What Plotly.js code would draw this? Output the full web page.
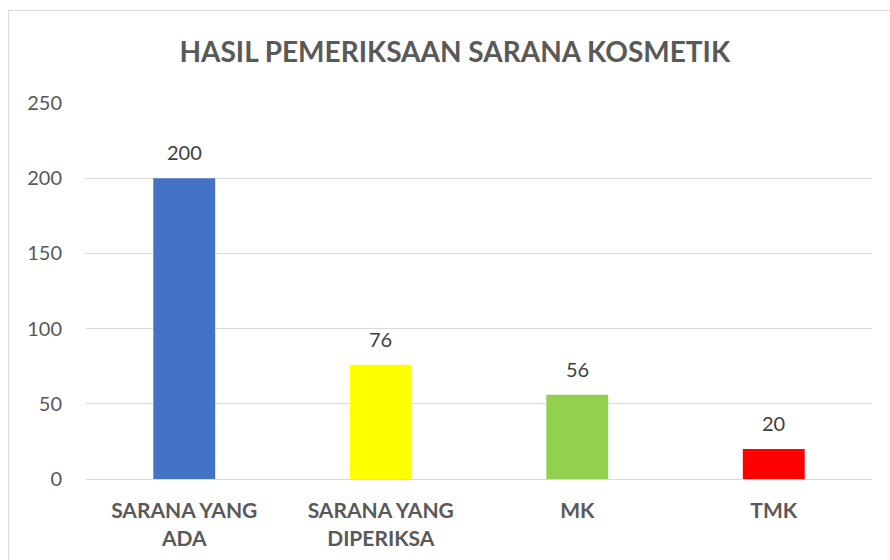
<!DOCTYPE html>
<html>
<head>
<meta charset="utf-8">
<script src="https://cdn.plot.ly/plotly-3.0.1.min.js"></script>
<style>
html,body{margin:0;padding:0;background:#fff;overflow:hidden;}
#chart{position:absolute;left:0;top:0;width:890px;height:560px;}
#frame{position:absolute;left:8px;top:10px;width:900px;height:600px;border:1px solid #d9d9d9;pointer-events:none;}
</style>
</head>
<body>
<div id="chart"></div>
<div id="frame"></div>
<script>
const categories = ["SARANA YANG<br>ADA", "SARANA YANG<br>DIPERIKSA", "MK", "TMK"];
const values = [200, 76, 56, 20];
const colors = ["#4472C4", "#FFFF00", "#92D050", "#FF0000"];
const yTicks = [0, 50, 100, 150, 200, 250];

const font = "Lato, 'Open Sans', sans-serif";

const trace = {
  type: "bar",
  x: categories,
  y: values,
  marker: {color: colors, line: {width: 0}},
  hoverinfo: "none"
};

const annotations = values.map((v, i) => ({
  x: categories[i], y: v, xref: "x", yref: "y",
  text: String(v), showarrow: false,
  yanchor: "bottom", yshift: 12,
  font: {family: font, size: 20, color: "#404040"}
}));

const layout = {
  width: 890, height: 560,
  margin: {l: 86, r: 18, t: 103, b: 81},
  paper_bgcolor: "#fff", plot_bgcolor: "#fff",
  showlegend: false,
  bargap: 0.685,
  title: {
    text: "<b>HASIL PEMERIKSAAN SARANA KOSMETIK</b>",
    x: 0.511, xanchor: "center", y: 0.907, yanchor: "middle",
    font: {family: font, size: 28, color: "#595959"}
  },
  xaxis: {
    type: "category",
    showline: true, linecolor: "#d9d9d9", linewidth: 1,
    showgrid: false, ticks: "", zeroline: false,
    tickfont: {family: font, size: 21, color: "#595959", weight: "bold"},
    ticklabelstandoff: 13,
    fixedrange: true
  },
  yaxis: {
    range: [0, 250], tickvals: yTicks, ticktext: yTicks.map(String),
    showgrid: true, gridcolor: "#d9d9d9", gridwidth: 1,
    zeroline: false, showline: false, ticks: "",
    tickfont: {family: font, size: 20, color: "#595959"},
    ticklabelstandoff: 23,
    fixedrange: true
  },
  annotations: annotations
};

Plotly.newPlot("chart", [trace], layout, {displayModeBar: false, staticPlot: true});
</script>
</body>
</html>
